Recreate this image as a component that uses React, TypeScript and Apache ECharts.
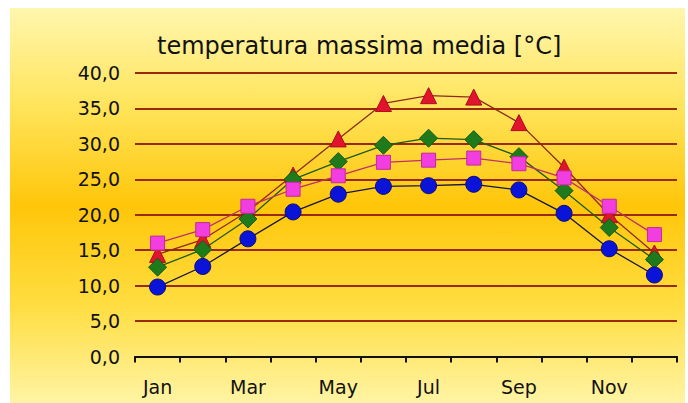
import React, { useEffect, useRef } from "react";
import * as echarts from "echarts";

const months = ["Jan", "Feb", "Mar", "Apr", "May", "Jun", "Jul", "Aug", "Sep", "Oct", "Nov", "Dec"];
const blueSeries = [9.8, 12.7, 16.6, 20.4, 22.9, 24.0, 24.1, 24.3, 23.5, 20.2, 15.2, 11.5];
const greenSeries = [12.6, 15.1, 19.4, 25.0, 27.5, 29.8, 30.8, 30.6, 28.2, 23.4, 18.2, 13.7];
const redSeries = [14.4, 16.5, 20.5, 25.6, 30.7, 35.7, 36.8, 36.6, 33.0, 26.7, 20.0, 14.6];
const pinkSeries = [16.0, 17.9, 21.2, 23.6, 25.5, 27.4, 27.7, 28.0, 27.2, 25.2, 21.2, 17.2];
const titleText = "temperatura massima media [°C]";

export default function App() {
  const ref = useRef<HTMLDivElement>(null);
  useEffect(() => {
    document.body.style.margin = "0";
    const chart = echarts.init(ref.current!, null, { renderer: "svg" });
    const font = "'DejaVu Sans', Verdana, sans-serif";
    const mk = (name: string, data: number[], symbol: string, size: number, fill: string, border: string, line: string, z: number) => ({
      name,
      type: "line",
      data,
      symbol,
      symbolSize: size,
      z,
      lineStyle: { color: line, width: 1.3 },
      itemStyle: { color: fill, borderColor: border, borderWidth: 1 },
    });
    chart.setOption({
      animation: false,
      textStyle: { fontFamily: font },
      title: {
        text: titleText,
        left: 152,
        top: 29,
        textStyle: { fontFamily: font, fontSize: 24, fontWeight: "normal", color: "#111" },
      },
      graphic: [
        {
          type: "rect",
          z: -10,
          silent: true,
          shape: { x: 10, y: 8, width: 675, height: 395 },
          style: {
            fill: new echarts.graphic.LinearGradient(0, 0, 0, 1, [
              { offset: 0, color: "#FFF6AE" },
              { offset: 0.25, color: "#FFE45A" },
              { offset: 0.5, color: "#FFC60A" },
              { offset: 0.75, color: "#FFDD40" },
              { offset: 1, color: "#FFF4A4" },
            ]),
          },
        },
      ],
      grid: { left: 135, right: 11, top: 73, bottom: 46.5 },
      xAxis: {
        type: "category",
        data: months,
        boundaryGap: true,
        axisLine: { lineStyle: { color: "#111", width: 2 } },
        axisTick: { show: true, interval: 0, length: 6, lineStyle: { color: "#111", width: 2 } },
        axisLabel: { interval: 1, color: "#111", fontSize: 19, margin: 21, fontFamily: font },
        splitLine: { show: false },
      },
      yAxis: {
        type: "value",
        min: 0,
        max: 40,
        interval: 5,
        axisLine: { show: false },
        axisTick: { show: false },
        axisLabel: {
          color: "#111",
          fontSize: 19,
          margin: 15,
          fontFamily: font,
          formatter: (v: number) => v.toFixed(1).replace(".", ","),
        },
        splitLine: { lineStyle: { color: "#9A2A08", width: 2 } },
      },
      series: [
        mk("rosso", redSeries, "triangle", 16, "#E0142C", "#B00A1E", "#8E2A1A", 2),
        mk("verde", greenSeries, "diamond", 18, "#1E7A1A", "#145A12", "#1E5A16", 3),
        mk("blu", blueSeries, "circle", 16, "#0A14D8", "#0A0A80", "#151540", 4),
        mk("rosa", pinkSeries, "rect", 14, "#F23EE0", "#C02A9A", "#C0306A", 5),
      ],
    });
    return () => chart.dispose();
  }, []);
  return <div ref={ref} style={{ width: 688, height: 403, background: "#fff" }} />;
}
